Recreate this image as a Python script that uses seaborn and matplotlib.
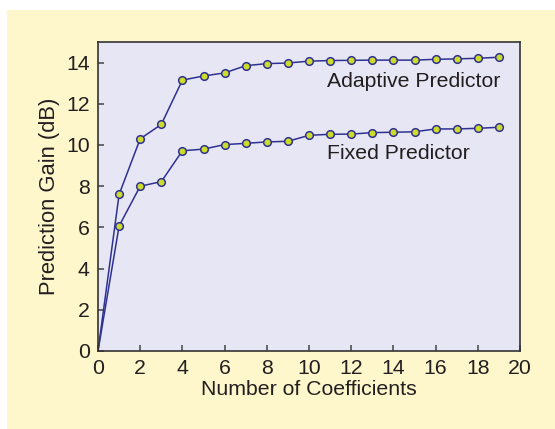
import pandas as pd
import matplotlib
matplotlib.use("Agg")
import matplotlib.pyplot as plt
import seaborn as sns
from matplotlib.patches import Rectangle

# data
coefficients = list(range(20))
adaptive_gain = [0, 7.6, 10.3, 11.0, 13.15, 13.35, 13.5, 13.85, 13.95, 13.98,
                 14.07, 14.1, 14.11, 14.12, 14.12, 14.12, 14.16, 14.18, 14.21, 14.26]
fixed_gain = [0, 6.07, 8.0, 8.22, 9.72, 9.8, 10.02, 10.08, 10.15, 10.18,
              10.47, 10.52, 10.53, 10.6, 10.62, 10.64, 10.78, 10.78, 10.81, 10.86]
x_ticks = [0, 2, 4, 6, 8, 10, 12, 14, 16, 18, 20]
y_ticks = [0, 2, 4, 6, 8, 10, 12, 14]

df = pd.DataFrame({
    "coef": coefficients * 2,
    "gain": adaptive_gain + fixed_gain,
    "series": ["Adaptive Predictor"] * 20 + ["Fixed Predictor"] * 20,
})

sns.set_theme(style="ticks")
plt.rcParams["font.family"] = ["Liberation Sans", "DejaVu Sans"]

line_col = "#2e3192"
text_col = "#231f20"
fs = 15.3

fig = plt.figure(figsize=(5.55, 4.29), dpi=100)
fig.patch.set_facecolor("white")
# yellow panel behind the chart
fig.patches.append(Rectangle((7 / 555, 0), 1, (429 - 10) / 429,
                             transform=fig.transFigure, facecolor="#fff7cc",
                             edgecolor="none", zorder=-10))

ax = fig.add_axes([98 / 555, (429 - 351) / 429, (520 - 98) / 555, (351 - 42) / 429])
ax.set_facecolor("#e7e6f4")

sns.lineplot(data=df, x="coef", y="gain", units="series", estimator=None,
             color=line_col, linewidth=1.1, ax=ax, legend=False)
pts = df[df["coef"] >= 1]
sns.scatterplot(data=pts, x="coef", y="gain", color="#cddc2a", edgecolor=line_col,
                linewidth=1.1, s=30, zorder=5, ax=ax, legend=False)

ax.text(10.85, 13.1, "Adaptive Predictor", fontsize=fs, color=text_col, va="center")
ax.text(10.85, 9.6, "Fixed Predictor", fontsize=fs, color=text_col, va="center")

ax.set_xlim(0, 20)
ax.set_ylim(0, 15)
ax.set_xticks(x_ticks)
ax.set_yticks(y_ticks)
ax.tick_params(direction="in", length=4, width=1.1, color="#444444",
               labelsize=fs, labelcolor=text_col, pad=6)
for sp in ax.spines.values():
    sp.set_color("#333333")
    sp.set_linewidth(1.2)

ax.set_xlabel("Number of Coefficients", fontsize=fs, color=text_col, labelpad=1.5)
ax.set_ylabel("Prediction Gain (dB)", fontsize=15.8, color=text_col, labelpad=4)

fig.savefig("out.png", dpi=100)
